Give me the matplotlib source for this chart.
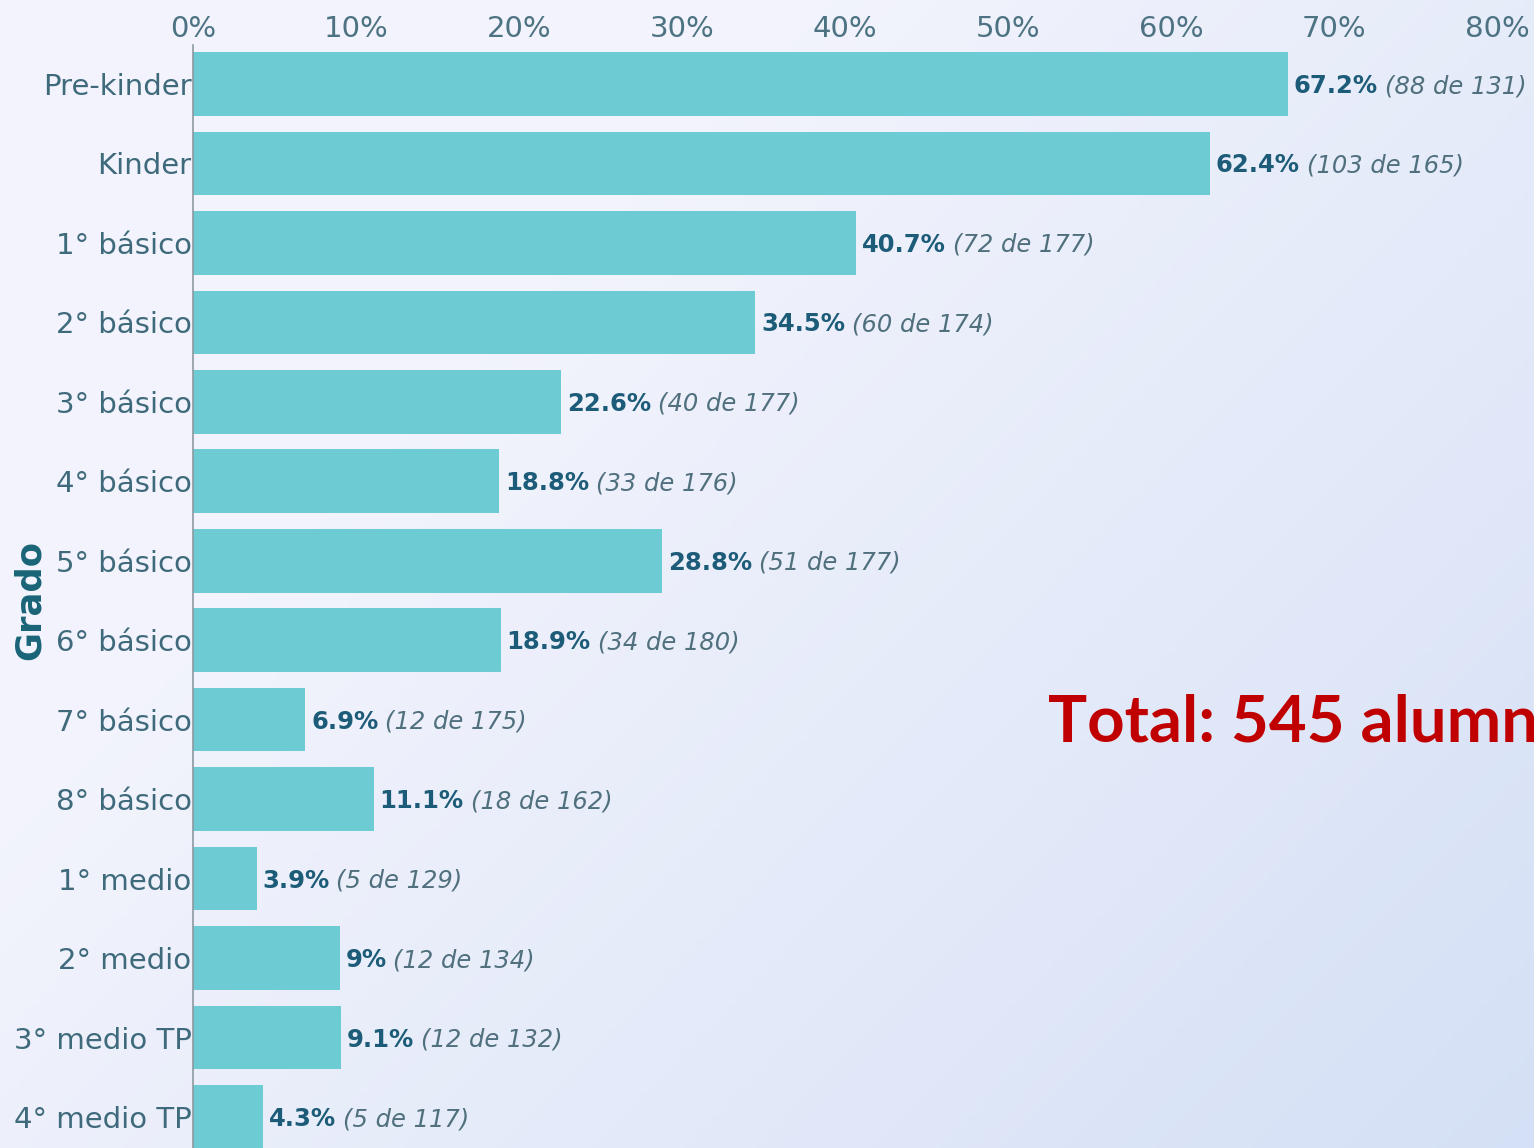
import numpy as np
import matplotlib
matplotlib.use("Agg")
import matplotlib.pyplot as plt

# Data
grados = ["Pre-kinder", "Kinder", "1° básico", "2° básico", "3° básico", "4° básico",
          "5° básico", "6° básico", "7° básico", "8° básico", "1° medio", "2° medio",
          "3° medio TP", "4° medio TP"]
porcentaje = [67.2, 62.4, 40.7, 34.5, 22.6, 18.8, 28.8, 18.9, 6.9, 11.1, 3.9, 9, 9.1, 4.3]
alumnos = [88, 103, 72, 60, 40, 33, 51, 34, 12, 18, 5, 12, 12, 5]
totales = [131, 165, 177, 174, 177, 176, 177, 180, 175, 162, 129, 134, 132, 117]
xticks = [0, 10, 20, 30, 40, 50, 60, 70, 80]
total_texto = "Total: 545 alumnos"

fig = plt.figure(figsize=(15.34, 11.48), dpi=100)

# soft blue background
bg = fig.add_axes([0, 0, 1, 1], zorder=-10)
xx, yy = np.meshgrid(np.linspace(0, 1, 300), np.linspace(1, 0, 300))
t = np.clip(0.75 * xx + 0.55 * (1 - yy) - 0.4, 0, 1)
c0 = np.array([0.950, 0.955, 0.990])
c1 = np.array([0.820, 0.870, 0.960])
img = c0 + t[..., None] * (c1 - c0)
bg.imshow(img, extent=[0, 1, 0, 1], aspect="auto")
bg.axis("off")

ax = fig.add_axes([193 / 1534, 0, (1497 - 193) / 1534, 1 - 45 / 1148])
ax.set_facecolor("none")

y = np.arange(len(grados))
ax.barh(y, porcentaje, height=0.8, color="#6ccbd3")
ax.set_xlim(0, 80)
ax.set_ylim(13.39, -0.49)

ax.xaxis.tick_top()
ax.set_xticks(xticks)
ax.set_xticklabels([f"{v}%" for v in xticks], fontsize=21, color="#4d7383")
ax.set_yticks(y)
ax.set_yticklabels(grados, fontsize=21, color="#3f6a7c")
ax.tick_params(axis="both", length=0)
ax.tick_params(axis="x", pad=1.5)
ax.tick_params(axis="y", pad=1)
for lbl in ax.get_yticklabels():
    lbl.set_verticalalignment("center_baseline")

for s in ["top", "right", "bottom"]:
    ax.spines[s].set_visible(False)
ax.spines["left"].set_color("#8c9aa0")
ax.spines["left"].set_linewidth(1.2)

for i in range(len(grados)):
    t1 = ax.annotate(f"{porcentaje[i]:g}%", xy=(porcentaje[i], i), xytext=(4, -1.5),
                     textcoords="offset points", va="center", ha="left",
                     fontsize=17.5, fontweight="bold", color="#1d5c78")
    ax.annotate(f"({alumnos[i]} de {totales[i]})", xy=(1, 0.5), xycoords=t1,
                xytext=(5, 0), textcoords="offset points", va="center", ha="left",
                fontsize=17.5, fontstyle="italic", color="#50707e")

fig.text(30 / 1534, 1 - 600 / 1148, "Grado", rotation=90, ha="center", va="center",
         fontsize=25.5, fontweight="bold", color="#1a6478")

fig.text(1048 / 1534, 1 - 742 / 1148, total_texto, ha="left", va="baseline",
         fontsize=47, fontweight="bold", color="#c00000", family="Lato")

fig.savefig("out.png", dpi=100)
